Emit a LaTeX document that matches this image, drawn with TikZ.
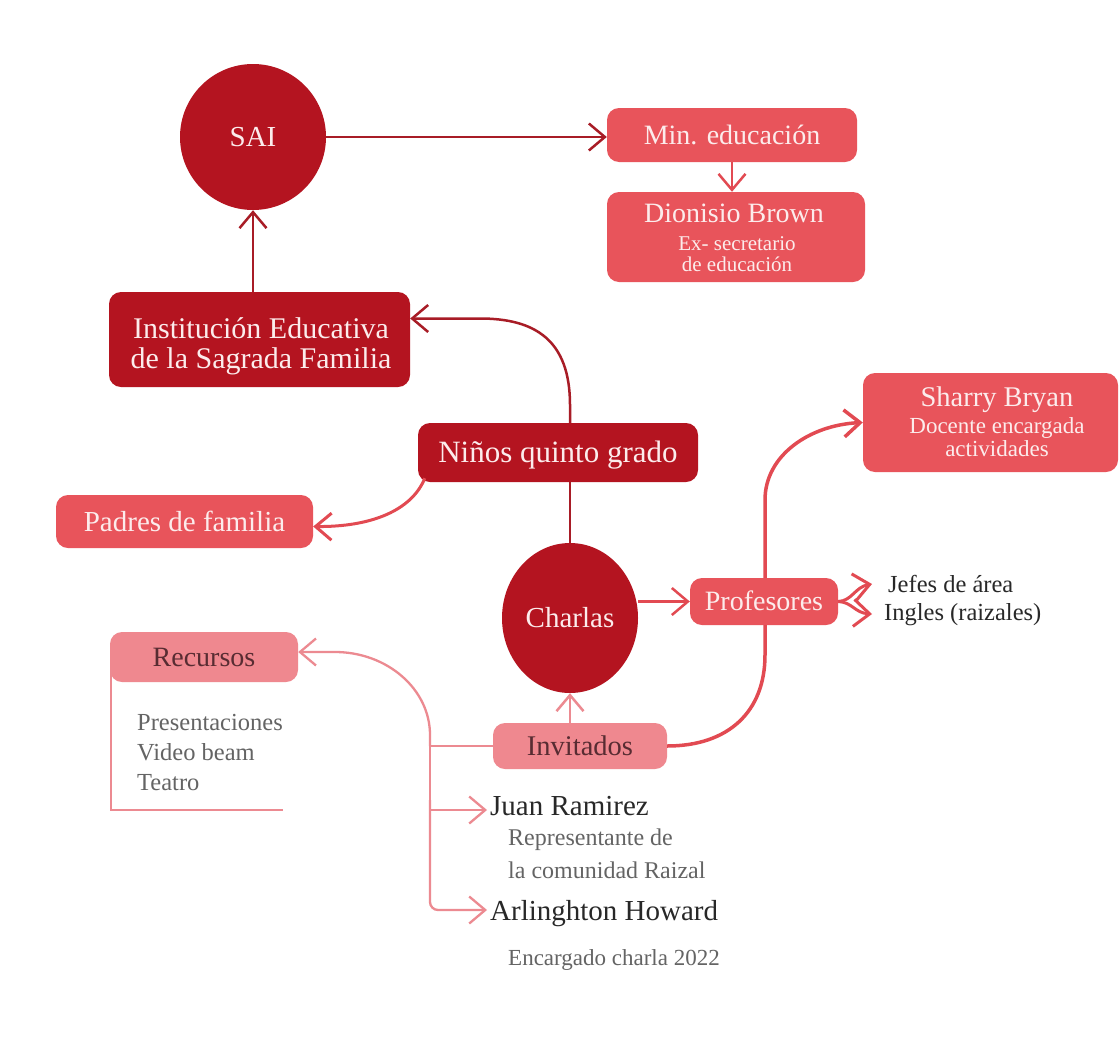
\documentclass[tikz,border=0pt]{standalone}
\usepackage{fontspec}
\setmainfont{Liberation Serif}
\usetikzlibrary{arrows.meta,shapes.geometric}
\definecolor{dred}{RGB}{180,20,32}
\definecolor{mred}{RGB}{232,84,91}
\definecolor{pinkf}{RGB}{239,136,143}
\definecolor{dline}{RGB}{168,28,38}
\definecolor{mline}{RGB}{226,74,82}
\definecolor{pline}{RGB}{236,138,145}
\definecolor{ptext}{RGB}{88,44,50}
\definecolor{wtext}{RGB}{252,236,236}
\definecolor{gtext}{RGB}{100,100,100}
\definecolor{ktext}{RGB}{40,40,40}
\begin{document}
\begin{tikzpicture}[x=1pt,y=-1pt,
  fs/.code={\pgfmathsetmacro\fsh{0.66*#1}\edef\fsx{\noexpand\tikzset{font=\noexpand\fontsize{#1}{#1}\noexpand\selectfont,text height=\fsh pt,text depth=0pt}}\fsx},
  box/.style={rectangle, rounded corners=12pt, inner sep=0pt, draw=none},
  dbox/.style={box, fill=dred, text=wtext},
  mbox/.style={box, fill=mred, text=wtext},
  pbox/.style={box, fill=pinkf, text=ptext},
  dcirc/.style={ellipse, fill=dred, text=wtext, inner sep=0pt},
  lbl/.style={inner sep=0pt, anchor=base},
  lblw/.style={inner sep=0pt, anchor=base west},
  tipd/.style={-{Straight Barb[length=16pt,width=27pt]}},
  conn/.style={line width=2.5pt, tipd}]
\useasboundingbox[fill=white] (0,0) rectangle (1119,1055);

% ---------- nodes ----------
\node[dcirc, minimum width=146pt, minimum height=146pt, fs=29] (sai) at (253,137) {SAI};
\node[mbox, minimum width=250pt, minimum height=54pt, fs=28] (min) at (732,135) {Min. educación};
\node[mbox, minimum width=258pt, minimum height=90pt] (dion) at (736,237) {};
\node[lbl, fs=28, text=wtext] (dion1) at (734,222) {Dionisio Brown};
\node[lbl, fs=21, text=wtext] (dion2) at (737,250) {Ex- secretario};
\node[lbl, fs=21, text=wtext] (dion3) at (737,271) {de educación};

\node[dbox, minimum width=301pt, minimum height=95pt] (inst) at (259.5,339.5) {};
\node[lbl, fs=30, text=wtext] (inst1) at (261,338) {Institución Educativa};
\node[lbl, fs=30, text=wtext] (inst2) at (261,368) {de la Sagrada Familia};

\node[dbox, minimum width=280pt, minimum height=59pt, fs=31] (nin) at (558,452.5) {Niños quinto grado};
\node[mbox, minimum width=257pt, minimum height=53pt, fs=29] (pad) at (184.5,521.5) {Padres de familia};

\node[dcirc, minimum width=136pt, minimum height=150pt, fs=29] (cha) at (570,618) {Charlas};
\node[mbox, minimum width=148pt, minimum height=47pt, fs=28] (prof) at (764,601.5) {Profesores};

\node[mbox, minimum width=255pt, minimum height=99pt] (sha) at (990.5,422.5) {};
\node[lbl, fs=28.5, text=wtext] (sha1) at (997,406) {Sharry Bryan};
\node[lbl, fs=23, text=wtext] (sha2) at (997,433) {Docente encargada};
\node[lbl, fs=23, text=wtext] (sha3) at (997,456) {actividades};

\node[lblw, fs=24.5, text=ktext] (jefes) at (888,592) {Jefes de área};
\node[lblw, fs=24.5, text=ktext] (ingles) at (884,620) {Ingles (raizales)};

\node[pbox, minimum width=174pt, minimum height=46pt, fs=28.5] (inv) at (580,746) {Invitados};
\node[pbox, minimum width=188pt, minimum height=50pt, fs=28] (rec) at (204,657) {Recursos};

\node[lblw, fs=24.5, text=gtext] (pres1) at (137,730) {Presentaciones};
\node[lblw, fs=24.5, text=gtext] (pres2) at (137,760) {Video beam};
\node[lblw, fs=24.5, text=gtext] (pres3) at (137,790) {Teatro};

\node[lblw, fs=29, text=ktext] (juan) at (490,815) {Juan Ramirez};
\node[lblw, fs=24, text=gtext] (rep1) at (508,845) {Representante de};
\node[lblw, fs=24, text=gtext] (rep2) at (508,878) {la comunidad Raizal};
\node[lblw, fs=29, text=ktext] (arl) at (490,920) {Arlinghton Howard};
\node[lblw, fs=23, text=gtext] (enc) at (508,965) {Encargado charla 2022};

% ---------- helper coordinates ----------
\coordinate (jt) at (872,584);
\coordinate (it) at (872,614);
\coordinate (jun) at (430,746);
\coordinate (juant) at (487,810);
\coordinate (arlt) at (487,910);
\coordinate (pvn) at ([xshift=1pt]prof.north);
\coordinate (pvs) at ([xshift=1pt]prof.south);
\coordinate (brk) at (283,810);

% ---------- connectors ----------
\draw[conn, dline] (sai.east) -- (sai.east -| min.west);
\draw[conn, mline] (min.south) -- (min.south |- dion.north);
\draw[conn, dline] (sai.south |- inst.north) -- (sai.south);
\draw[conn, dline] (cha.north |- nin.north) -- (570,405)
   .. controls (570,340) and (535,318.5) .. (480,318.5) -- ([yshift=21pt]inst.east);
\draw[line width=3pt, mline, tipd] ([xshift=7pt,yshift=4pt]nin.south west)
   .. controls (412,510) and (372,527) .. ([yshift=-5pt]pad.east);
\draw[line width=2.5pt, dline] (cha.north |- nin.south) -- (cha.north);
\draw[conn, mline] (prof.west -| cha.east) -- (prof.west);
\draw[line width=3pt, mline, tipd] (prof.east) .. controls (852,601) and (855,587) .. (jt);
\draw[line width=3pt, mline, tipd] (prof.east) .. controls (852,602) and (855,613) .. (it);
\draw[line width=3.5pt, mline] (inv.east) .. controls (728,746) and (765,712) .. (765,655) -- (pvs);
\draw[line width=3.5pt, mline, tipd] (pvn) -- (765,500)
   .. controls (765,455) and (810,425) .. (sha.west);
\draw[conn, pline] (cha.south |- inv.north) -- (cha.south);
\draw[line width=2.3pt, pline] (inv.west) -- (jun);
\draw[line width=2.3pt, pline, tipd] (jun) -- (430,735)
   .. controls (430,689) and (387,652) .. (335,652) -- ([yshift=5pt]rec.east);
\draw[line width=2.3pt, pline, tipd] (jun) |- (juant);
\draw[line width=2.3pt, pline, tipd, rounded corners=8pt] (430,800) |- (arlt);
\draw[line width=2.3pt, pline] ([xshift=1.5pt,yshift=12pt]rec.south west) |- (brk);
\end{tikzpicture}
\end{document}
